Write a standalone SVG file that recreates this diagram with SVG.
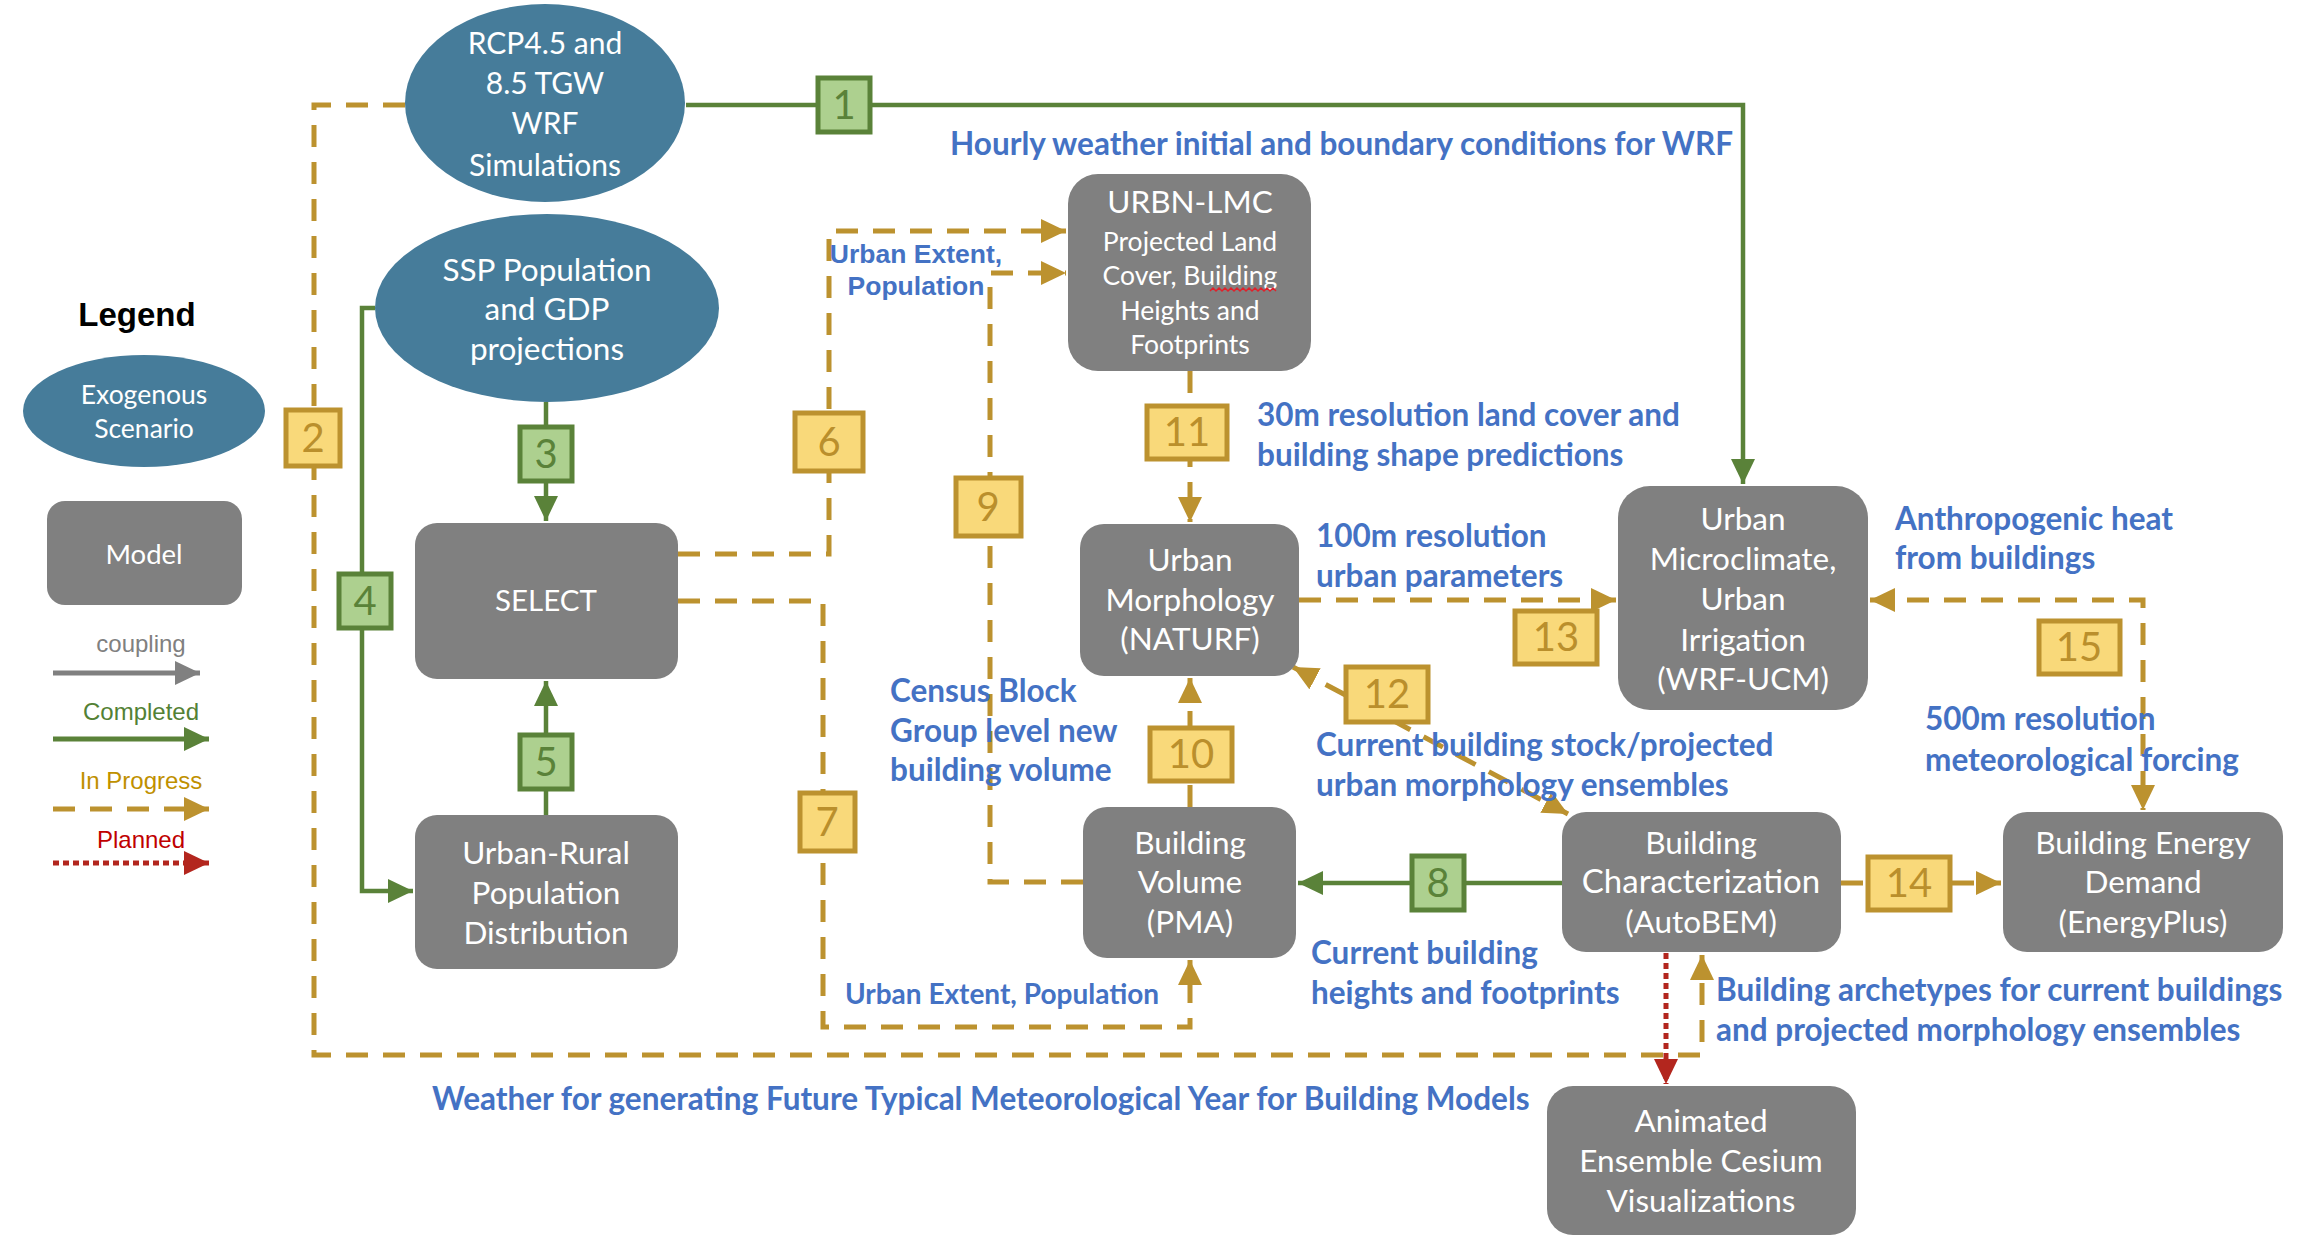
<svg xmlns="http://www.w3.org/2000/svg" width="2310" height="1242" viewBox="0 0 2310 1242">
<defs>
<style>
.bg{fill:#FFFFFF}
.ell{fill:#467C9A}
.box{fill:#808080}
.nt{font-family:Lato,"Open Sans",sans-serif;font-size:31.5px;fill:#FFFFFF;text-anchor:middle}
.nts{font-family:Lato,"Open Sans",sans-serif;font-size:26.5px;fill:#FFFFFF;text-anchor:middle}
.lbl{font-family:Lato,"Open Sans",sans-serif;font-size:31.5px;font-weight:bold;fill:#4472C4}
.lbla{font-family:"Liberation Sans",Arial,sans-serif;font-size:26.5px;font-weight:bold;fill:#4472C4;text-anchor:middle}
.g{fill:none;stroke:#5A8239;stroke-width:4.5}
.y{fill:none;stroke:#BC922F;stroke-width:5;stroke-dasharray:22 15}
.r{fill:none;stroke:#B3261E;stroke-width:5;stroke-dasharray:6 4}
.gr{fill:none;stroke:#808080;stroke-width:5}
.bg1{fill:#ADD08F;stroke:#5A8239;stroke-width:5}
.by1{fill:#F9D97A;stroke:#BC922F;stroke-width:5}
.bgt{font-family:Lato,"Open Sans",sans-serif;font-size:40px;fill:#5A8239;text-anchor:middle}
.byt{font-family:Lato,"Open Sans",sans-serif;font-size:40px;fill:#BA8F2C;text-anchor:middle}
.leg{font-family:"Liberation Sans",Arial,sans-serif;font-size:24px;text-anchor:middle}
</style>
<marker id="ag" markerUnits="userSpaceOnUse" markerWidth="26" markerHeight="24" refX="25" refY="12" orient="auto-start-reverse"><path d="M0,0 L25,12 L0,24 z" fill="#5A8239"/></marker>
<marker id="ay" markerUnits="userSpaceOnUse" markerWidth="26" markerHeight="24" refX="25" refY="12" orient="auto-start-reverse"><path d="M0,0 L25,12 L0,24 z" fill="#BC922F"/></marker>
<marker id="ar" markerUnits="userSpaceOnUse" markerWidth="26" markerHeight="24" refX="25" refY="12" orient="auto-start-reverse"><path d="M0,0 L25,12 L0,24 z" fill="#B3261E"/></marker>
<marker id="agr" markerUnits="userSpaceOnUse" markerWidth="26" markerHeight="24" refX="25" refY="12" orient="auto-start-reverse"><path d="M0,0 L25,12 L0,24 z" fill="#808080"/></marker>
</defs>
<rect class="bg" x="0" y="0" width="2310" height="1242"/>

<g id="connectors">
<path class="g" d="M686,105 H1743 V484" marker-end="url(#ag)"/>
<path class="y" d="M405,105 H314 V1055 H1702 V955" marker-end="url(#ay)"/>
<path class="r" d="M1666,953 V1084" marker-end="url(#ar)"/>
<path class="g" d="M546,402 V521" marker-end="url(#ag)"/>
<path class="g" d="M375,308 H362 V891 H413" marker-end="url(#ag)"/>
<path class="g" d="M546,815 V681" marker-end="url(#ag)"/>
<path class="y" d="M678,554 H829 V231 H1066" marker-end="url(#ay)"/>
<path class="y" d="M678,601 H823 V1027 H1190 V960" marker-end="url(#ay)"/>
<path class="y" d="M1083,882 H990 V273 H1066" marker-end="url(#ay)"/>
<path class="y" d="M1190,371 V522" marker-end="url(#ay)"/>
<path class="y" d="M1190,807 V678" marker-end="url(#ay)"/>
<path class="y" d="M1299,600 H1616" marker-end="url(#ay)"/>
<path class="y" d="M1870,600 H2143 V810" marker-start="url(#ay)" marker-end="url(#ay)"/>
<path class="y" d="M1293,667 L1568,814" marker-start="url(#ay)" marker-end="url(#ay)"/>
<path class="g" d="M1562,883 H1298" marker-end="url(#ag)"/>
<path class="y" d="M1841,883 H2001" marker-end="url(#ay)"/>
</g>

<g id="legend">
<text x="137" y="326" font-family="'Liberation Sans',Arial,sans-serif" font-size="33" font-weight="bold" fill="#000000" text-anchor="middle">Legend</text>
<g id="legend-exogenous"><ellipse class="ell" cx="144" cy="411" rx="121" ry="56"/>
<text class="nt" style="font-size:26.5px" x="144" y="404">Exogenous</text>
<text class="nt" style="font-size:26.5px" x="144" y="438">Scenario</text></g>
<g id="legend-model"><rect class="box" x="47" y="501" width="195" height="104" rx="18"/>
<text class="nt" style="font-size:27.5px" x="144" y="564">Model</text></g>
<text class="leg" x="141" y="652" fill="#808080">coupling</text>
<path class="gr" d="M53,673 H200" marker-end="url(#agr)"/>
<text class="leg" x="141" y="720" fill="#538135">Completed</text>
<path class="g" style="stroke-width:5" d="M53,739 H209" marker-end="url(#ag)"/>
<text class="leg" x="141" y="789" fill="#BF9000">In Progress</text>
<path class="y" d="M53,809 H209" marker-end="url(#ay)"/>
<text class="leg" x="141" y="848" fill="#C00000">Planned</text>
<path class="r" d="M53,863 H209" marker-end="url(#ar)"/>
</g>

<g id="rcp"><ellipse class="ell" cx="545" cy="103" rx="140" ry="99"/>
<text class="nt" style="font-size:30px" x="545" y="54">RCP4.5 and</text>
<text class="nt" style="font-size:30px" x="545" y="94">8.5 TGW</text>
<text class="nt" style="font-size:30px" x="545" y="134">WRF</text>
<text class="nt" style="font-size:30px" x="545" y="176">Simulations</text></g>

<g id="ssp"><ellipse class="ell" cx="547" cy="308" rx="172" ry="94"/>
<text class="nt" x="547" y="281">SSP Population</text>
<text class="nt" x="547" y="320">and GDP</text>
<text class="nt" x="547" y="360">projections</text></g>

<g id="select"><rect class="box" x="415" y="523" width="263" height="156" rx="22"/>
<text class="nt" style="font-size:29.5px" x="546" y="611">SELECT</text></g>

<g id="urban-rural"><rect class="box" x="415" y="815" width="263" height="154" rx="22"/>
<text class="nt" x="546" y="864">Urban-Rural</text>
<text class="nt" x="546" y="904">Population</text>
<text class="nt" x="546" y="944">Distribution</text></g>

<g id="urbn-lmc"><rect class="box" x="1068" y="174" width="243" height="197" rx="30"/>
<text class="nt" x="1190" y="213">URBN-LMC</text>
<text class="nts" x="1190" y="251">Projected Land</text>
<text class="nts" x="1190" y="285">Cover, Building</text>
<text class="nts" x="1190" y="320">Heights and</text>
<text class="nts" x="1190" y="354">Footprints</text>
<path d="M1210,291 l3,-3 l3,3 l3,-3 l3,3 l3,-3 l3,3 l3,-3 l3,3 l3,-3 l3,3 l3,-3 l3,3 l3,-3 l3,3 l3,-3 l3,3 l3,-3 l3,3 l3,-3 l3,3 l3,-3 l3,3" fill="none" stroke="#E0202A" stroke-width="1.5"/></g>

<g id="naturf"><rect class="box" x="1080" y="524" width="219" height="152" rx="24"/>
<text class="nt" x="1190" y="571">Urban</text>
<text class="nt" x="1190" y="611">Morphology</text>
<text class="nt" x="1190" y="650">(NATURF)</text></g>

<g id="wrf-ucm"><rect class="box" x="1618" y="486" width="250" height="224" rx="32"/>
<text class="nt" x="1743" y="530">Urban</text>
<text class="nt" x="1743" y="570">Microclimate,</text>
<text class="nt" x="1743" y="610">Urban</text>
<text class="nt" x="1743" y="651">Irrigation</text>
<text class="nt" x="1743" y="690">(WRF-UCM)</text></g>

<g id="pma"><rect class="box" x="1083" y="807" width="213" height="151" rx="24"/>
<text class="nt" x="1190" y="854">Building</text>
<text class="nt" x="1190" y="893">Volume</text>
<text class="nt" x="1190" y="933">(PMA)</text></g>

<g id="autobem"><rect class="box" x="1562" y="812" width="279" height="140" rx="24"/>
<text class="nt" x="1701" y="854">Building</text>
<text class="nt" x="1701" y="893" style="font-size:33px">Characterization</text>
<text class="nt" x="1701" y="933">(AutoBEM)</text></g>

<g id="energyplus"><rect class="box" x="2003" y="812" width="280" height="140" rx="24"/>
<text class="nt" x="2143" y="854">Building Energy</text>
<text class="nt" x="2143" y="893">Demand</text>
<text class="nt" x="2143" y="933">(EnergyPlus)</text></g>

<g id="cesium"><rect class="box" x="1547" y="1086" width="309" height="149" rx="26"/>
<text class="nt" x="1701" y="1132">Animated</text>
<text class="nt" x="1701" y="1172">Ensemble Cesium</text>
<text class="nt" x="1701" y="1212">Visualizations</text></g>

<g id="badges">
<rect class="bg1" x="818" y="78" width="52" height="54"/><text class="bgt" x="844" y="119">1</text>
<rect class="by1" x="286" y="410" width="54" height="56"/><text class="byt" x="313" y="452">2</text>
<rect class="bg1" x="520" y="427" width="52" height="54"/><text class="bgt" x="546" y="468">3</text>
<rect class="bg1" x="339" y="574" width="52" height="54"/><text class="bgt" x="365" y="615">4</text>
<rect class="bg1" x="520" y="735" width="52" height="54"/><text class="bgt" x="546" y="776">5</text>
<rect class="by1" x="795" y="413" width="68" height="58"/><text class="byt" x="829" y="456">6</text>
<rect class="by1" x="800" y="793" width="55" height="58"/><text class="byt" x="827" y="836">7</text>
<rect class="bg1" x="1412" y="856" width="52" height="54"/><text class="bgt" x="1438" y="897">8</text>
<rect class="by1" x="956" y="478" width="65" height="58"/><text class="byt" x="988" y="521">9</text>
<rect class="by1" x="1150" y="728" width="82" height="53"/><text class="byt" x="1191" y="768">10</text>
<rect class="by1" x="1147" y="406" width="80" height="53"/><text class="byt" x="1187" y="446">11</text>
<rect class="by1" x="1346" y="667" width="82" height="55"/><text class="byt" x="1387" y="708">12</text>
<rect class="by1" x="1515" y="611" width="82" height="53"/><text class="byt" x="1556" y="651">13</text>
<rect class="by1" x="1868" y="857" width="82" height="53"/><text class="byt" x="1909" y="897">14</text>
<rect class="by1" x="2039" y="621" width="81" height="53"/><text class="byt" x="2079" y="661">15</text>
</g>

<g id="labels">
<text class="lbl" x="950" y="155">Hourly weather initial and boundary conditions for WRF</text>
<text class="lbla" x="916" y="263">Urban Extent,</text>
<text class="lbla" x="916" y="295">Population</text>
<text class="lbl" x="1257" y="426">30m resolution land cover and</text>
<text class="lbl" x="1257" y="466">building shape predictions</text>
<text class="lbl" x="1316" y="547">100m resolution</text>
<text class="lbl" x="1316" y="587">urban parameters</text>
<text class="lbl" x="1895" y="530">Anthropogenic heat</text>
<text class="lbl" x="1895" y="569">from buildings</text>
<text class="lbl" x="890" y="702">Census Block</text>
<text class="lbl" x="890" y="742">Group level new</text>
<text class="lbl" x="890" y="781">building volume</text>
<text class="lbl" x="1316" y="756">Current building stock/projected</text>
<text class="lbl" x="1316" y="796">urban morphology ensembles</text>
<text class="lbl" x="1925" y="730">500m resolution</text>
<text class="lbl" x="1925" y="771">meteorological forcing</text>
<text class="lbl" x="1311" y="964">Current building</text>
<text class="lbl" x="1311" y="1004">heights and footprints</text>
<text class="lbl" style="font-size:28px;text-anchor:middle" x="1002" y="1004">Urban Extent, Population</text>
<text class="lbl" x="1716" y="1001">Building archetypes for current buildings</text>
<text class="lbl" x="1716" y="1041">and projected morphology ensembles</text>
<text class="lbl" x="432" y="1110">Weather for generating Future Typical Meteorological Year for Building Models</text>
</g>
</svg>
